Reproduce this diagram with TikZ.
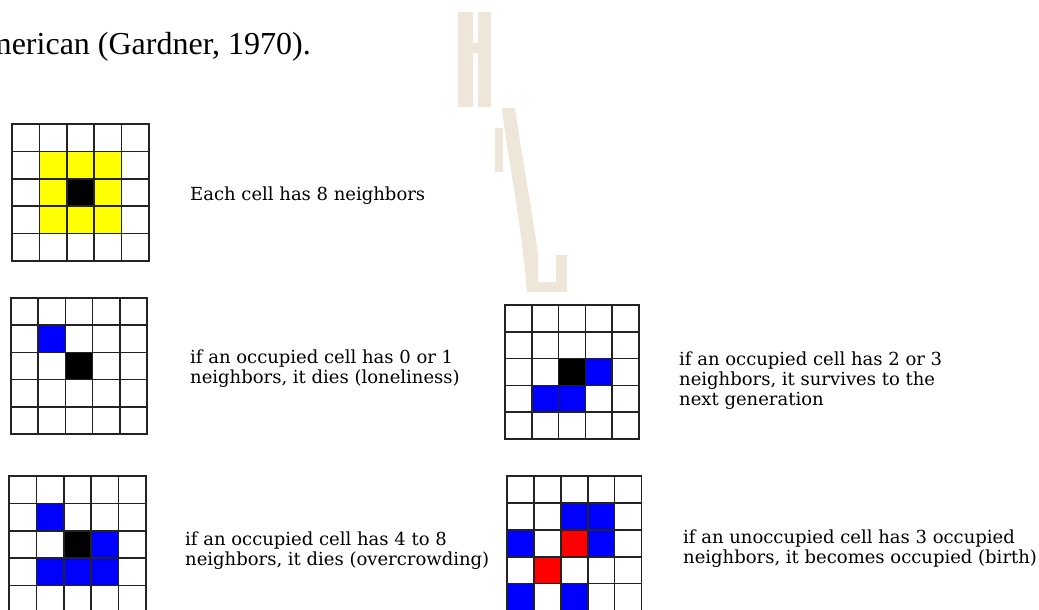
\documentclass[tikz,border=0pt]{standalone}
\usepackage{fontspec}
\setmainfont{DejaVu Serif}
\newfontfamily\timesfont{Liberation Serif}
\definecolor{wm}{RGB}{237,230,217}
\definecolor{gridgray}{RGB}{35,35,35}
\definecolor{lifeblue}{RGB}{0,0,255}
\definecolor{lifered}{RGB}{255,0,0}
\definecolor{lifeyellow}{RGB}{255,255,0}
\newcommand\lifegrid[4]{%
  \foreach \gc/\gr/\gk in {#4} {\fill[\gk] (#1+\gc*#3,#2+\gr*#3) rectangle ++(#3,#3);}
  \foreach \gi in {0,...,5} {
    \draw[gridline] (#1+\gi*#3,#2) -- ++(0,5*#3);
    \draw[gridline] (#1,#2+\gi*#3) -- ++(5*#3,0);
  }}
\begin{document}
\begin{tikzpicture}[x=1pt,y=-1pt,
  gridline/.style={draw=gridgray,line width=1.6pt,line cap=rect},
  ruletext/.style={font=\fontsize{18}{20}\selectfont,anchor=base west,inner sep=0pt},
  toptext/.style={font=\timesfont\fontsize{32}{34}\selectfont,anchor=base east,inner sep=0pt}]
\useasboundingbox (0,0) rectangle (1039,610);
\clip (0,0) rectangle (1039,610);
% watermark
\fill[wm] (457.7,11.7) rectangle (473.3,107);
\fill[wm] (478.3,11.7) rectangle (491,107);
\fill[wm] (473.3,43) rectangle (478.3,53);
\fill[wm] (495,128) rectangle (503,172);
\fill[wm] (501.7,108) -- (515,108) .. controls (524,170) and (533,215) .. (538,255)
  -- (538,282) -- (556,282) -- (556,255) -- (567,255) -- (567,292) -- (527,292)
  .. controls (521,220) and (509,165) .. (501.7,108) -- cycle;
% top text
\node[toptext] (title) at (311,55) {American (Gardner, 1970).};
% grids
\lifegrid{12}{124}{27.4}{1/1/lifeyellow,2/1/lifeyellow,3/1/lifeyellow,1/2/lifeyellow,3/2/lifeyellow,1/3/lifeyellow,2/3/lifeyellow,3/3/lifeyellow,2/2/black}
\lifegrid{11}{298}{27.2}{1/1/lifeblue,2/2/black}
\lifegrid{9}{476}{27.4}{1/1/lifeblue,2/2/black,3/2/lifeblue,1/3/lifeblue,2/3/lifeblue,3/3/lifeblue}
\lifegrid{505}{305}{26.8}{2/2/black,3/2/lifeblue,1/3/lifeblue,2/3/lifeblue}
\lifegrid{507}{476}{26.9}{2/1/lifeblue,3/1/lifeblue,0/2/lifeblue,2/2/lifered,3/2/lifeblue,1/3/lifered,0/4/lifeblue,2/4/lifeblue}
% texts
\node[ruletext] (t1) at (190,200) {Each cell has 8 neighbors};
\node[ruletext] (t2a) at (190,363) {if an occupied cell has 0 or 1};
\node[ruletext] (t2b) at (190,383) {neighbors, it dies (loneliness)};
\node[ruletext] (t3a) at (679,365) {if an occupied cell has 2 or 3};
\node[ruletext] (t3b) at (679,385) {neighbors, it survives to the};
\node[ruletext] (t3c) at (679,405) {next generation};
\node[ruletext] (t4a) at (185,545) {if an occupied cell has 4 to 8};
\node[ruletext] (t4b) at (185,565) {neighbors, it dies (overcrowding)};
\node[ruletext] (t5a) at (683,543) {if an unoccupied cell has 3 occupied};
\node[ruletext] (t5b) at (683,563) {neighbors, it becomes occupied (birth)};
\end{tikzpicture}
\end{document}
